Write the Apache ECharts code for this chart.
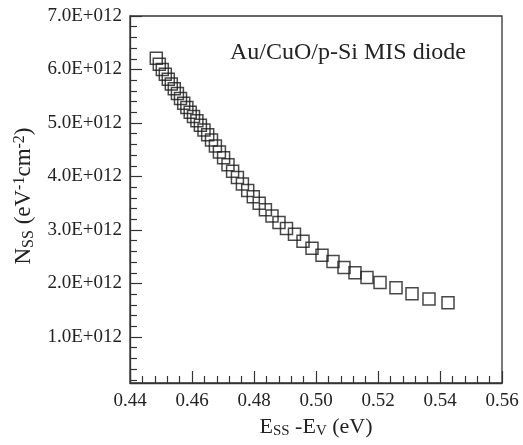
<!DOCTYPE html>
<html>
<head>
<meta charset="utf-8">
<script src="https://cdn.jsdelivr.net/npm/echarts@6/dist/echarts.min.js"></script>
<style>
  html, body { margin: 0; padding: 0; background: #fff; }
  #chart { width: 523px; height: 445px; }
</style>
</head>
<body>
<div id="chart"></div>
<script>
// Interface-state energy E_SS - E_V (eV)
const energy = [
  0.44848, 0.44945, 0.45042, 0.45139, 0.45235, 0.45332, 0.45429, 0.45529,
  0.45629, 0.45732, 0.45835, 0.45942, 0.46048, 0.46158, 0.46271, 0.46387,
  0.46506, 0.46629, 0.46755, 0.46884, 0.47019, 0.47161, 0.47310, 0.47465,
  0.47626, 0.47797, 0.47977, 0.48168, 0.48368, 0.48581, 0.48806, 0.49048,
  0.49306, 0.49581, 0.49871, 0.50194, 0.50548, 0.50903, 0.51258, 0.51645,
  0.52065, 0.52581, 0.53097, 0.53645, 0.54258
];
// Interface-state density N_SS in units of 1E+012 eV^-1 cm^-2
const density = [
  6.21, 6.10, 6.00, 5.91, 5.82, 5.73, 5.64, 5.55,
  5.46, 5.37, 5.29, 5.20, 5.12, 5.04, 4.96, 4.87,
  4.78, 4.68, 4.57, 4.46, 4.35, 4.22, 4.10, 3.98,
  3.86, 3.74, 3.62, 3.50, 3.38, 3.26, 3.14, 3.03,
  2.92, 2.79, 2.66, 2.53, 2.41, 2.30, 2.20, 2.11,
  2.02, 1.92, 1.81, 1.71, 1.64
];
const xTicks = [0.44, 0.46, 0.48, 0.50, 0.52, 0.54, 0.56];
const yMajorTicks = [1, 2, 3, 4, 5, 6, 7];
const yMinorTicks = [];
for (let v = 2; v < 70; v += 2) { if (v % 10 !== 0) yMinorTicks.push(v / 10); }
const yRange = [0.14, 7];
const annotation = 'Au/CuO/p-Si MIS diode';

const ink = '#333';
const textInk = '#222';
const serif = '"Liberation Serif", "Times New Roman", serif';

const chart = echarts.init(document.getElementById('chart'), null, { renderer: 'canvas' });

const points = energy.map((e, i) => [e, density[i]]);

chart.setOption({
  animation: false,
  backgroundColor: '#fff',
  grid: {
    left: 130, top: 16, right: 21, bottom: 62,
    show: true, borderColor: ink, borderWidth: 1.3, backgroundColor: 'transparent'
  },
  xAxis: {
    type: 'value',
    min: xTicks[0], max: xTicks[xTicks.length - 1], interval: 0.02,
    axisLine: { show: true, onZero: false, lineStyle: { color: ink, width: 1.3 } },
    axisTick: { show: true, inside: true, length: 12, lineStyle: { color: ink, width: 1.2 } },
    minorTick: { show: true, splitNumber: 5, length: 7, lineStyle: { color: ink, width: 1.2 } },
    splitLine: { show: false },
    axisLabel: {
      color: textInk, fontFamily: serif, fontSize: 19, margin: 9,
      formatter: v => v.toFixed(2)
    },
    name: 'E{sub|SS} -E{sub|V} (eV)',
    nameLocation: 'middle', nameGap: 25,
    nameTextStyle: {
      color: textInk, fontFamily: serif, fontSize: 22,
      rich: {
        sub: { fontFamily: serif, fontSize: 15, color: textInk, verticalAlign: 'bottom', padding: [9, 0, 0, 0] }
      }
    }
  },
  yAxis: [
    {
      type: 'value', min: yRange[0], max: yRange[1],
      axisLine: { show: true, onZero: false, lineStyle: { color: ink, width: 1.3 } },
      axisTick: { show: true, inside: true, length: 12, customValues: yMajorTicks, lineStyle: { color: ink, width: 1.2 } },
      splitLine: { show: false },
      axisLabel: {
        color: textInk, fontFamily: serif, fontSize: 19, margin: 8,
        customValues: yMajorTicks,
        formatter: v => v.toFixed(1) + 'E+012'
      },
      name: 'N{sub|SS} (eV{sup|-1}cm{sup|-2})',
      nameLocation: 'middle', nameGap: 93,
      nameTextStyle: {
        color: textInk, fontFamily: serif, fontSize: 23,
        padding: [0, 0, 0, 7],
        rich: {
          sub: { fontFamily: serif, fontSize: 16, color: textInk, verticalAlign: 'bottom', padding: [9, 0, 0, 0] },
          sup: { fontFamily: serif, fontSize: 16, color: textInk, verticalAlign: 'top', padding: [0, 0, 9, 0] }
        }
      }
    },
    {
      type: 'value', min: yRange[0], max: yRange[1], position: 'left',
      axisLine: { show: false },
      axisTick: { show: true, inside: true, length: 7, customValues: yMinorTicks, lineStyle: { color: ink, width: 1.2 } },
      axisLabel: { show: false },
      splitLine: { show: false }
    }
  ],
  graphic: [{
    type: 'text', left: 230, top: 41,
    style: { text: annotation, fontFamily: serif, fontSize: 24, fill: textInk }
  }],
  series: [{
    type: 'scatter',
    yAxisIndex: 0,
    data: points,
    symbol: 'rect',
    symbolSize: 12,
    itemStyle: { color: 'rgba(255,255,255,0)', borderColor: '#1a1a1a', borderWidth: 1.5 },
    emphasis: { disabled: true }
  }]
});
</script>
</body>
</html>
